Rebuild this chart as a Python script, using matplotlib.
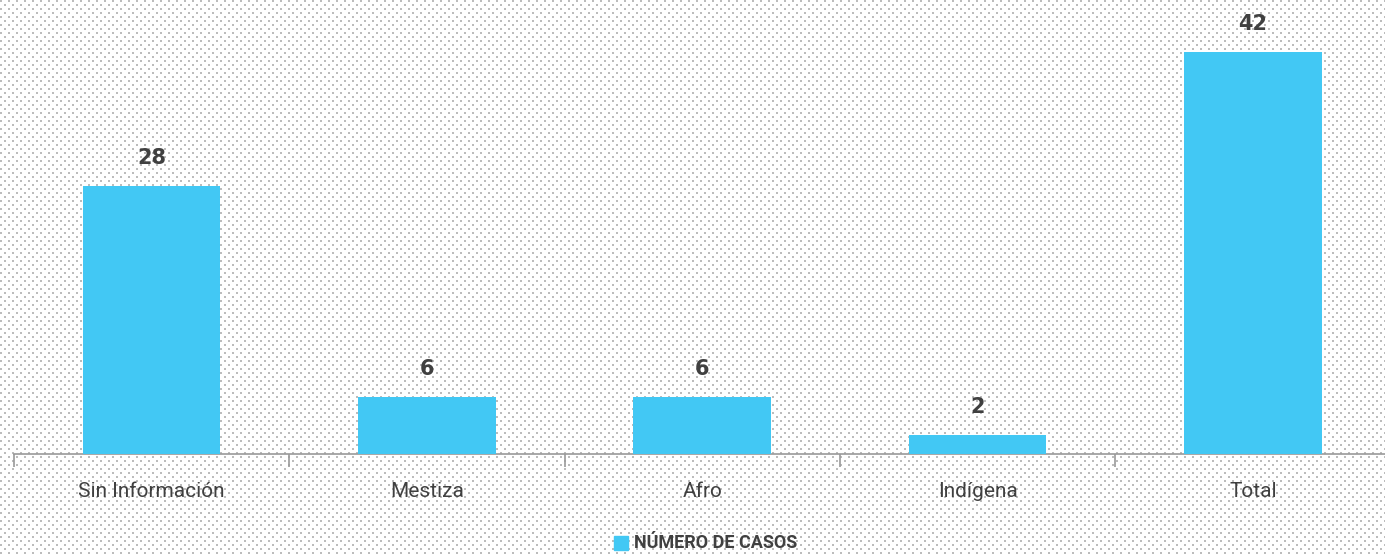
import numpy as np
import matplotlib
matplotlib.use("Agg")
import matplotlib.pyplot as plt
from matplotlib.patches import Rectangle

categories = ["Sin Información", "Mestiza", "Afro", "Indígena", "Total"]
casos = [28, 6, 6, 2, 42]
series_name = "NÚMERO DE CASOS"

W, H, DPI = 1385, 554, 100
fig = plt.figure(figsize=(W / DPI, H / DPI), dpi=DPI)

# dotted background texture
bg = np.ones((H, W, 3))
yy, xx = np.mgrid[0:H, 0:W]
dots = ((yy % 4) < 2) & (((xx + (yy // 4) * 4) % 8) < 2)
bg[dots] = 0.74
fig.figimage(bg, 0, 0, zorder=-10)

lab_font = "Roboto"
bar_color = "#42C8F4"
txt_color = "#404040"

left_px, right_px = 14, 14 + 5 * 275.3
base_px = 454
ax = fig.add_axes([left_px / W, (H - base_px) / H, (right_px - left_px) / W, base_px / H])
ax.set_zorder(1)
ax.patch.set_alpha(0)
x = np.arange(len(categories))
ax.bar(x, casos, width=0.5, color=bar_color, zorder=3)
ax.set_xlim(-0.5, len(categories) - 0.5)
ax.set_ylim(0, 42 * base_px / (base_px - 52))
for xi, v in zip(x, casos):
    ax.text(xi, v + 42 * 18 / 402, str(v), ha="center", va="bottom",
            fontsize=15, fontweight="bold", color=txt_color, family="DejaVu Sans")

for s in ["top", "right", "left"]:
    ax.spines[s].set_visible(False)
ax.spines["bottom"].set_color("#9a9a9a")
ax.spines["bottom"].set_linewidth(1.2)
ax.set_yticks([])
ax.set_xticks(x)
ax.set_xticklabels(categories, family=lab_font, fontsize=15, color=txt_color)
ax.tick_params(axis="x", which="major", length=0, pad=20)
ax.set_xticks(np.arange(-0.5, len(categories), 1), minor=True)
ax.tick_params(axis="x", which="minor", length=9, color="#9a9a9a", width=1.2)

# legend
fig.patches.append(Rectangle((614 / W, (H - 550) / H), 14 / W, 14 / H,
                             transform=fig.transFigure, color=bar_color, zorder=2))
fig.text(634 / W, (H - 543) / H, series_name, fontsize=13, fontweight="bold",
         color=txt_color, va="center", ha="left", family=lab_font)

fig.savefig("out.png", dpi=DPI)
